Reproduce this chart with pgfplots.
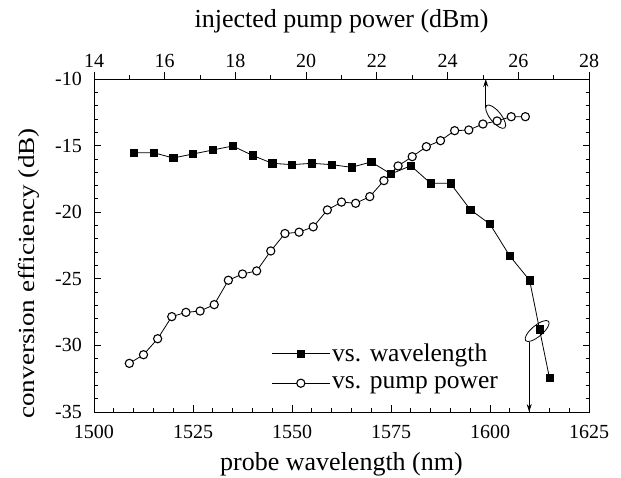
\documentclass[border=0pt]{standalone}
\usepackage{fontspec}
\setmainfont{Liberation Serif}
\newfontfamily\ylabfont[FakeStretch=1.18]{Liberation Serif}
\usepackage{pgfplots}
\pgfplotsset{compat=1.18}
\usetikzlibrary{arrows.meta}

\pgfplotsset{
  common/.style={
    width=495pt, height=333pt, scale only axis,
    at={(94pt,66pt)}, anchor=south west,
    ymin=-35, ymax=-10, clip=false,
    major tick length=6.5pt, minor tick length=3.5pt,
    tick style={black, line width=0.8pt},
    axis line style={line width=0.9pt},
    /pgf/number format/assume math mode=true,
    /pgf/number format/1000 sep={},
    tick label style={font=\fontsize{20}{24}\selectfont},
  },
  sqstyle/.style={black, line width=0.8pt, mark=square*, mark size=3.6pt, mark options={solid, line width=0.6pt}},
  cistyle/.style={black, line width=0.8pt, mark=*, mark size=4.1pt, mark options={solid, fill=white, line width=1.1pt}},
}

\begin{document}
\begin{tikzpicture}
\useasboundingbox (0,0) rectangle (621pt,478pt);

\begin{axis}[common,
  xmin=1500, xmax=1625,
  xtick={1500,1525,...,1625}, minor x tick num=4,
  ytick={-35,-30,...,-10}, minor y tick num=4,
  xtick pos=bottom, ytick pos=both,
  tick align=inside,
  xticklabel style={anchor=base, yshift=-26.3pt},
  yticklabel style={anchor=east, inner xsep=0pt, xshift=-12pt},
  xlabel={probe wavelength (nm)},
  xlabel style={at={(axis description cs:0.5,-0.1757)}, anchor=base, font=\fontsize{26}{30}\selectfont},
  ylabel={conversion efficiency (dB)},
  ylabel style={at={(axis description cs:-0.1192,0.416)}, anchor=base, rotate=0, font=\ylabfont\fontsize{23}{28}\selectfont},
]
\addplot[sqstyle] coordinates {
(1510,-15.53) (1515,-15.53) (1520,-15.93) (1525,-15.63) (1530,-15.33)
(1535,-15.03) (1540,-15.73) (1545,-16.33) (1550,-16.43) (1555,-16.33)
(1560,-16.43) (1565,-16.63) (1570,-16.23) (1575,-17.13) (1580,-16.51)
(1585,-17.83) (1590,-17.83) (1595,-19.80) (1600,-20.90) (1605,-23.29)
(1610,-25.11) (1612.5,-28.79) (1615,-32.42)
};
\draw[line width=0.8pt, shift={(axis cs:1611.9,-28.92)}, rotate=40] (0pt,0pt) ellipse [x radius=15pt, y radius=5.5pt];
\draw[line width=0.8pt, -{Stealth[length=8pt,width=5pt]}] (axis cs:1609.9,-29.71) -- (axis cs:1609.9,-35);
\end{axis}

\begin{axis}[common,
  xmin=14, xmax=28,
  axis x line*=top, axis y line=none,
  x axis line style={-},
  xtick={14,16,...,28}, minor x tick num=1,
  tick align=outside,
  xticklabel style={anchor=base, yshift=5pt},
  xlabel={injected pump power (dBm)},
  xlabel style={at={(axis description cs:0.5,1.1532)}, anchor=base, font=\fontsize{26}{30}\selectfont},
  legend style={draw=none, fill=none, font=\fontsize{25.5}{30}\selectfont,
    at={(axis description cs:0.352,0.216)}, anchor=north west, row sep=9pt},
  legend cell align=left,
  legend image code/.code={\draw[mark repeat=2,mark phase=2] plot coordinates {(0pt,0pt) (29pt,0pt) (58pt,0pt)};},
]
\addlegendimage{sqstyle}
\addlegendentry{vs. wavelength}
\addplot[cistyle] coordinates {
(15.0,-31.35) (15.4,-30.70) (15.8,-29.50) (16.2,-27.84) (16.6,-27.52)
(17.0,-27.42) (17.4,-26.94) (17.8,-25.11) (18.2,-24.64) (18.6,-24.41)
(19.0,-22.91) (19.4,-21.60) (19.8,-21.50) (20.2,-21.10) (20.6,-19.83)
(21.0,-19.24) (21.4,-19.33) (21.8,-18.83) (22.2,-17.63) (22.6,-16.53)
(23.0,-15.83) (23.4,-15.08) (23.8,-14.63) (24.2,-13.88) (24.6,-13.83)
(25.0,-13.38) (25.4,-13.15) (25.8,-12.83) (26.2,-12.83)
};
\addlegendentry{vs. pump power}
\draw[line width=0.8pt, shift={(axis cs:25.36,-12.83)}, rotate=-51] (0pt,0pt) ellipse [x radius=14.4pt, y radius=5.5pt];
\draw[line width=0.8pt, -{Stealth[length=8pt,width=5pt]}] (axis cs:25.08,-12.2) -- (axis cs:25.08,-10);
\end{axis}
\end{tikzpicture}
\end{document}
